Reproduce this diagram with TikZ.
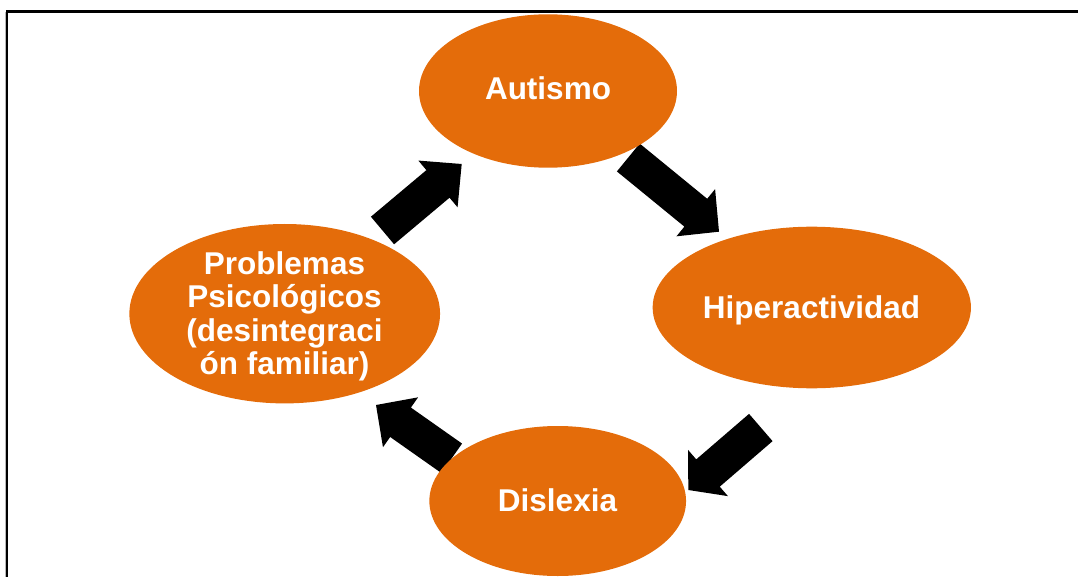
\documentclass[tikz,border=0pt]{standalone}
\usepackage{fontspec}
\setmainfont{Liberation Sans}
\usetikzlibrary{shapes.geometric,calc}
\definecolor{bubbleorange}{RGB}{228,108,10}
\newcommand\myblockarrow[3]{%
  \coordinate (h) at ($(#2)!#3!(#1)$);
  \fill[arrowfill] ($(#1)!18pt!90:(#2)$) -- ($(h)!18pt!90:(#2)$) -- ($(h)!30.5pt!90:(#2)$) -- (#2)
    -- ($(h)!30.5pt!-90:(#2)$) -- ($(h)!18pt!-90:(#2)$) -- ($(#1)!18pt!-90:(#2)$) -- cycle;}
\tikzset{
  bubble/.style={ellipse, fill=bubbleorange, draw=none, inner sep=0pt},
  bubbletext/.style={text=white, font=\bfseries\fontsize{31.5}{33.5}\selectfont, align=center, inner sep=0pt},
  arrowfill/.style={fill=black},
  frameline/.style={line width=2.2pt, black}
}
\begin{document}
\begin{tikzpicture}[x=1pt,y=-1pt]
\useasboundingbox (0,0) rectangle (1078,577);
% frame
\draw[gray!55, line width=1pt] (5.2,12.5) -- (5.2,577);
\draw[frameline] (7,577) -- (7,11.5) -- (1078,11.5);
% block arrows
\coordinate (a1t) at (382.5,230.5); \coordinate (a1p) at (461.7,164);
\coordinate (a2t) at (628.3,157.5); \coordinate (a2p) at (719,231.7);
\coordinate (a3t) at (760.8,427.5); \coordinate (a3p) at (688.3,490);
\coordinate (a4t) at (451.7,458.3); \coordinate (a4p) at (376,405);
\myblockarrow{a1t}{a1p}{31pt}
\myblockarrow{a2t}{a2p}{30pt}
\myblockarrow{a3t}{a3p}{26pt}
\myblockarrow{a4t}{a4p}{30pt}
% ellipses
\node[bubble, minimum width=258pt, minimum height=153.4pt] (aut) at (548,91) {};
\node[bubble, minimum width=318.3pt, minimum height=161.6pt] (hip) at (811.8,307.5) {};
\node[bubble, minimum width=256.7pt, minimum height=150pt] (dis) at (557.7,501) {};
\node[bubble, minimum width=310.7pt, minimum height=179.4pt] (pro) at (284.7,313.7) {};
% texts
\node[bubbletext, anchor=base] (autt) at (548,100) {Autismo};
\node[bubbletext, anchor=base] (hipt) at (811.5,318.3) {Hiperactividad};
\node[bubbletext, anchor=base] (dist) at (557.5,511.7) {Dislexia};
\node[bubbletext] (prot) at (284.5,316.4) {Problemas\\Psicológicos\\(desintegraci\\ón familiar)};
\end{tikzpicture}
\end{document}
